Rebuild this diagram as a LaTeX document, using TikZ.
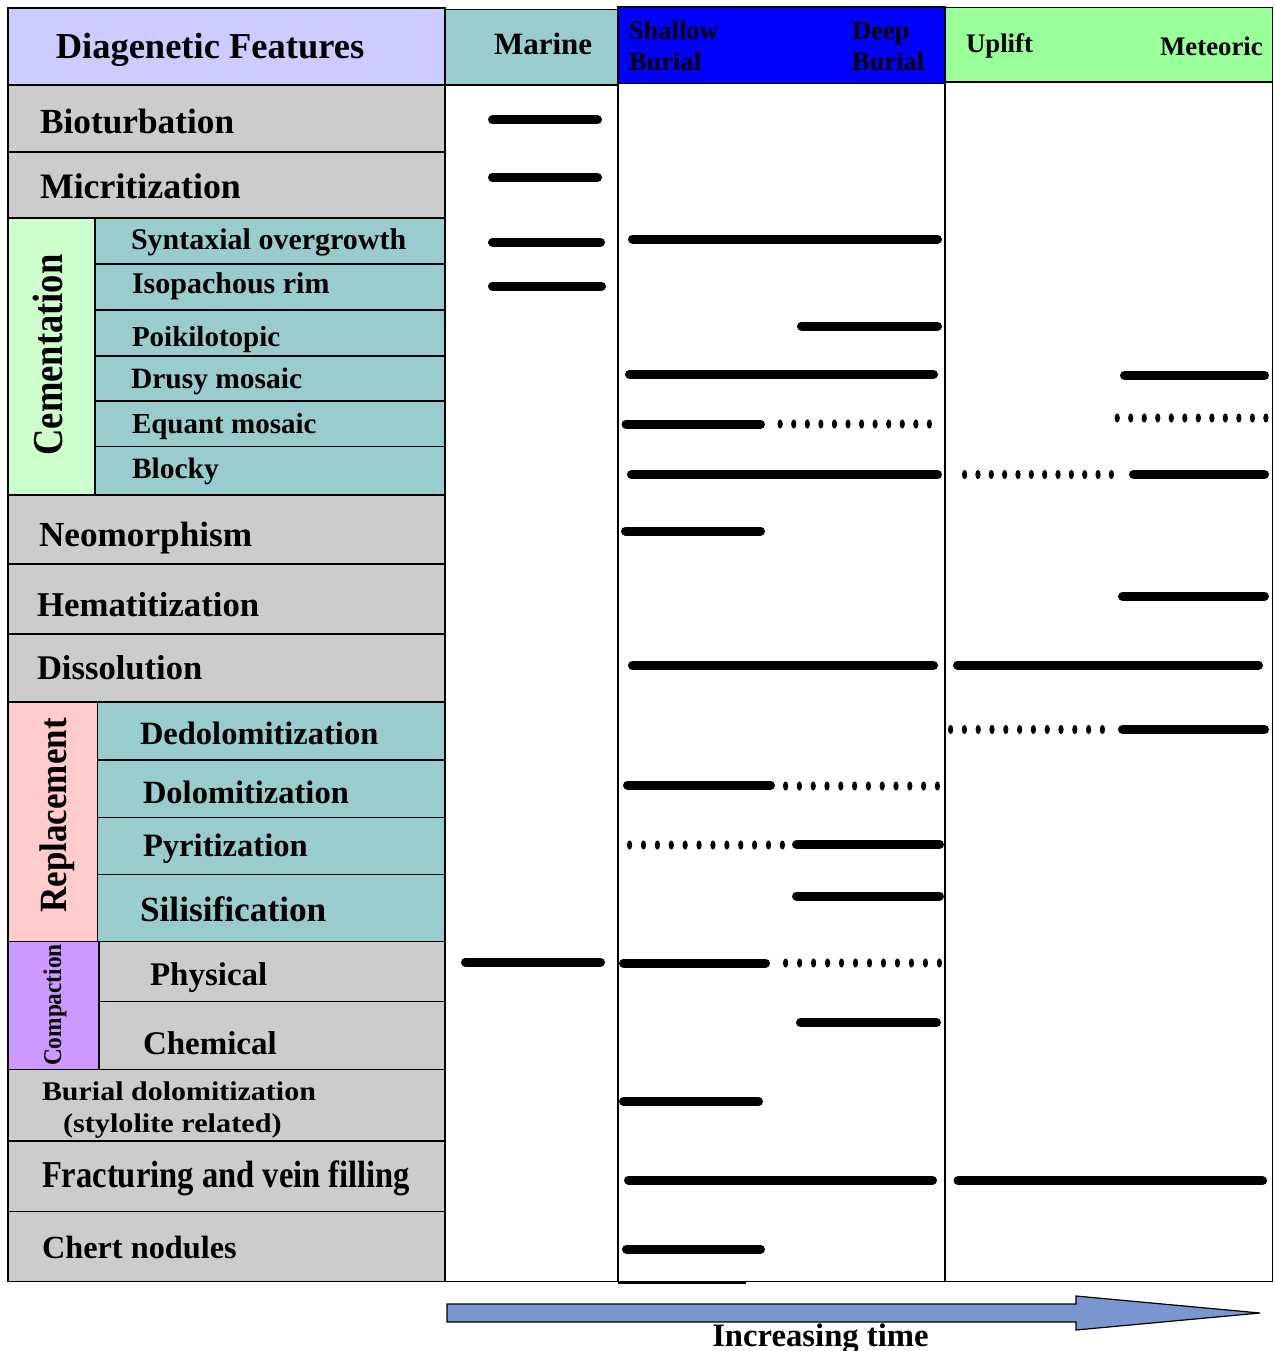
\documentclass[tikz,border=0pt]{standalone}
\usepackage{fontspec}
\setmainfont{Liberation Serif}
\usepackage{graphicx}
\definecolor{cLav}{HTML}{CCCCFF}
\definecolor{cGrey}{HTML}{CCCCCC}
\definecolor{cTeal}{HTML}{99CCCC}
\definecolor{cLGreen}{HTML}{CCFFCC}
\definecolor{cPink}{HTML}{FFCCCC}
\definecolor{cPurple}{HTML}{CC99FF}
\definecolor{cBlue}{HTML}{0000FF}
\definecolor{cHGreen}{HTML}{99FF99}
\definecolor{cArrow}{RGB}{122,150,208}
\newcommand\myfs[1]{\fontsize{#1}{#1}\selectfont\bfseries}
\newcommand\solidbar[3]{\draw[barline] ({#1+4.5},#3) -- ({#2-4.5},#3);}
\newcommand\dotbar[3]{\foreach \k in {0,...,11}{\fill ({#1+2.6+\k*(#2-#1-5.2)/11},#3) ellipse [x radius=2.6pt, y radius=4.6pt];}}
\begin{document}
\begin{tikzpicture}[x=1pt,y=-1pt,
  cell/.style={draw=black, line width=1.6pt},
  lab/.style={anchor=base west, inner sep=0pt, outer sep=0pt},
  labc/.style={anchor=base, inner sep=0pt, outer sep=0pt},
  vlab/.style={anchor=base, rotate=90, inner sep=0pt, outer sep=0pt},
  barline/.style={line width=9pt, line cap=round}]
\useasboundingbox[fill=white] (0,0) rectangle (1274,1351);

% column bodies
\draw[cell] (445,85) rectangle (618,1281.5);
\draw[cell] (618,83.5) rectangle (945,1281.5);
\draw[cell] (945,82) rectangle (1272.5,1281.5);
\draw[line width=2.5pt] (618,1282.5) -- (746,1282.5);

% headers
\filldraw[cell, fill=cLav] (8,8) rectangle (445,85);
\filldraw[cell, fill=cTeal] (445,9.5) rectangle (618,85);
\filldraw[cell, fill=cBlue] (618,7) rectangle (945,83.5);
\filldraw[cell, fill=cHGreen] (945,7.5) rectangle (1272.5,82);

\node[labc] (hdf) at (210,58.5) {\myfs{36.5}Diagenetic Features};
\node[lab] (hmar) at (494,55) {\myfs{31}Marine};
\node[lab] (hsh1) at (629,40) {\myfs{26.5}Shallow};
\node[lab] (hsh2) at (629,70.7) {\myfs{26.5}Burial};
\node[lab] (hdp1) at (852,40) {\myfs{26.5}Deep};
\node[lab] (hdp2) at (852,70.7) {\myfs{26.5}Burial};
\node[lab] (hupl) at (966,52.3) {\myfs{26.8}Uplift};
\node[anchor=base east, inner sep=0pt] (hmet) at (1263,55.7) {\myfs{26.8}Meteoric};

% left table
\filldraw[cell, fill=cGrey] (8,85) rectangle (445,152);
\filldraw[cell, fill=cGrey] (8,152) rectangle (445,218);
\filldraw[cell, fill=cLGreen] (8,218) rectangle (95,495);
\filldraw[cell, fill=cTeal] (95,218) rectangle (445,264);
\filldraw[cell, fill=cTeal] (95,264) rectangle (445,310);
\filldraw[cell, fill=cTeal] (95,310) rectangle (445,356);
\filldraw[cell, fill=cTeal] (95,356) rectangle (445,401);
\filldraw[cell, fill=cTeal] (95,401) rectangle (445,446.5);
\filldraw[cell, fill=cTeal] (95,446.5) rectangle (445,495);
\filldraw[cell, fill=cGrey] (8,495) rectangle (445,564);
\filldraw[cell, fill=cGrey] (8,564) rectangle (445,634);
\filldraw[cell, fill=cGrey] (8,634) rectangle (445,702);
\filldraw[cell, fill=cPink] (8,702) rectangle (97.5,941.5);
\filldraw[cell, fill=cTeal] (97.5,702) rectangle (445,760);
\filldraw[cell, fill=cTeal] (97.5,760) rectangle (445,817.5);
\filldraw[cell, fill=cTeal] (97.5,817.5) rectangle (445,874.5);
\filldraw[cell, fill=cTeal] (97.5,874.5) rectangle (445,941.5);
\filldraw[cell, fill=cPurple] (8,941.5) rectangle (99,1069.5);
\filldraw[cell, fill=cGrey] (99,941.5) rectangle (445,1001.5);
\filldraw[cell, fill=cGrey] (99,1001.5) rectangle (445,1069.5);
\filldraw[cell, fill=cGrey] (8,1069.5) rectangle (445,1141);
\filldraw[cell, fill=cGrey] (8,1141) rectangle (445,1211.5);
\filldraw[cell, fill=cGrey] (8,1211.5) rectangle (445,1281.5);

\node[lab] (tbio) at (40,133.3) {\myfs{35.3}Bioturbation};
\node[lab] (tmic) at (40,198) {\myfs{35.8}Micritization};
\node[vlab] (tcem) at (62,355) {\myfs{42.5}\scalebox{0.86}[1]{Cementation}};
\node[lab] (tsyn) at (131,249.5) {\myfs{30}Syntaxial overgrowth};
\node[lab] (tiso) at (132,293) {\myfs{30}Isopachous rim};
\node[lab] (tpoi) at (132,346) {\myfs{29}Poikilotopic};
\node[lab] (tdru) at (131,388) {\myfs{29.5}Drusy mosaic};
\node[lab] (tequ) at (132,433) {\myfs{29}Equant mosaic};
\node[lab] (tblo) at (132,478) {\myfs{29.5}Blocky};
\node[lab] (tneo) at (39,546) {\myfs{35.2}Neomorphism};
\node[lab] (them) at (37,616) {\myfs{34.8}Hematitization};
\node[lab] (tdis) at (37,679) {\myfs{34.6}Dissolution};
\node[vlab] (trep) at (66,815.5) {\myfs{38.5}\scalebox{0.91}[1]{Replacement}};
\node[lab] (tded) at (140,744.3) {\myfs{32.5}Dedolomitization};
\node[lab] (tdol) at (143,803.3) {\myfs{32.5}Dolomitization};
\node[lab] (tpyr) at (143,856.7) {\myfs{32.6}Pyritization};
\node[lab] (tsil) at (140,921.7) {\myfs{35.3}Silisification};
\node[vlab] (tcom) at (61,1005) {\myfs{25.6}\scalebox{0.91}[1]{Compaction}};
\node[lab] (tphy) at (150,985.7) {\myfs{33}Physical};
\node[lab] (tche) at (143,1054.3) {\myfs{33}Chemical};
\node[lab] (tbd1) at (42,1100.5) {\myfs{27}\scalebox{1.11}[1]{Burial dolomitization}};
\node[lab] (tbd2) at (63,1132) {\myfs{27}\scalebox{1.12}[1]{(stylolite related)}};
\node[lab] (tfra) at (42,1187) {\myfs{38}\scalebox{0.857}[1]{Fracturing and vein filling}};
\node[lab] (tche2) at (42,1258.3) {\myfs{32.3}Chert nodules};

% marine bars
\solidbar{488}{602}{120}
\solidbar{488}{602}{177.5}
\solidbar{488}{605}{242}
\solidbar{488}{606}{286}
\solidbar{461}{605}{962}

% burial bars
\solidbar{628}{942}{239}
\solidbar{797}{942}{326}
\solidbar{625}{938}{374}
\solidbar{621.5}{765}{424}
\dotbar{777.6}{932}{424}
\solidbar{627}{942}{474.5}
\solidbar{621}{765}{531}
\solidbar{628}{938}{665.5}
\solidbar{623}{775}{785}
\dotbar{783}{940}{786}
\dotbar{627}{785}{845}
\solidbar{792}{944}{844.5}
\solidbar{792}{944}{896}
\solidbar{619}{770}{963}
\dotbar{783}{942}{963}
\solidbar{796}{941}{1022.5}
\solidbar{619}{763}{1101.5}
\solidbar{624}{937}{1180}
\solidbar{622}{765}{1249}

% uplift bars
\solidbar{1120}{1269}{375.5}
\dotbar{1114.6}{1268.5}{418}
\dotbar{962}{1114}{474.5}
\solidbar{1129}{1269}{474.5}
\solidbar{1118}{1269}{596}
\solidbar{953}{1263}{665}
\dotbar{948}{1105}{729.5}
\solidbar{1118}{1269}{729.5}
\solidbar{953.5}{1267}{1180.7}

% time arrow
\filldraw[fill=cArrow, draw=black, line width=1.2pt]
  (447,1304) -- (1076,1304) -- (1076,1296) -- (1260,1313) -- (1076,1330) -- (1076,1322) -- (447,1322) -- cycle;
\node[labc] (ttime) at (820.5,1346) {\myfs{32.7}Increasing time};
\end{tikzpicture}
\end{document}
